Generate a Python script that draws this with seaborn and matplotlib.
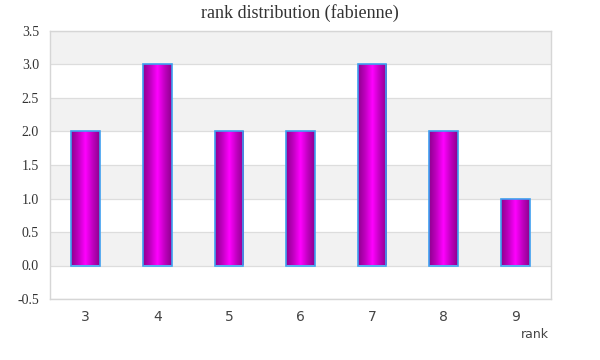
import numpy as np
import pandas as pd
import matplotlib
matplotlib.use("Agg")
import matplotlib.pyplot as plt
from matplotlib.colors import LinearSegmentedColormap
import seaborn as sns

ranks = ["3", "4", "5", "6", "7", "8", "9"]
counts = [2, 3, 2, 2, 3, 2, 1]

df = pd.DataFrame({"rank": ranks, "count": counts})

sns.set_style("white")

fig = plt.figure(figsize=(6, 3.6), dpi=100)
ax = fig.add_axes([50 / 600, 61 / 360, 501 / 600, 268 / 360])

sns.barplot(data=df, x="rank", y="count", ax=ax, width=0.4,
            color="#ee00ee", edgecolor="#3fa0f0", linewidth=1.2, zorder=3)

# horizontal gradient inside each bar: dark edges, bright centre
cmap = LinearSegmentedColormap.from_list(
    "mag", ["#8e008e", "#c000c0", "#ff00ff", "#c000c0", "#8e008e"])
grad = np.linspace(0, 1, 256).reshape(1, -1)
for p in ax.patches:
    x0, y0 = p.get_x(), p.get_y()
    w, h = p.get_width(), p.get_height()
    im = ax.imshow(grad, cmap=cmap, aspect="auto",
                   extent=[x0, x0 + w, y0, y0 + h], zorder=3.5)
    im.set_clip_path(p)
    p.set_facecolor("none")
    p.set_zorder(4)

ax.set_xlim(-0.5, 6.5)
ax.set_ylim(-0.5, 3.5)
ax.set_aspect("auto")

# alternating background bands
for lo in [0.0, 1.0, 2.0, 3.0]:
    ax.axhspan(lo, lo + 0.5, color="#f2f2f2", zorder=0, lw=0)
for y in np.arange(-0.5, 3.51, 0.5):
    ax.axhline(y, color="#dddddd", lw=0.9, zorder=1)

yt = np.arange(-0.5, 3.51, 0.5)
ax.set_yticks(yt)
ax.set_yticklabels([f"{v:.1f}" for v in yt], family="Liberation Serif",
                   fontsize=10, color="#333333")
ax.tick_params(axis="y", length=0, pad=8)
ax.tick_params(axis="x", length=0, pad=8, labelsize=10, labelcolor="#444444")

for s in ax.spines.values():
    s.set_color("#d6d6d6")
    s.set_linewidth(1)

ax.set_xlabel("")
ax.set_ylabel("")
fig.text(549 / 600, 1 - 335 / 360, "rank", ha="right", va="center",
         fontsize=9, color="#444444")
fig.text(0.5, 1 - 13 / 360, "rank distribution (fabienne)", ha="center",
         va="center", family="Liberation Serif", fontsize=13, color="#333333")

fig.savefig("out.png", dpi=100)
